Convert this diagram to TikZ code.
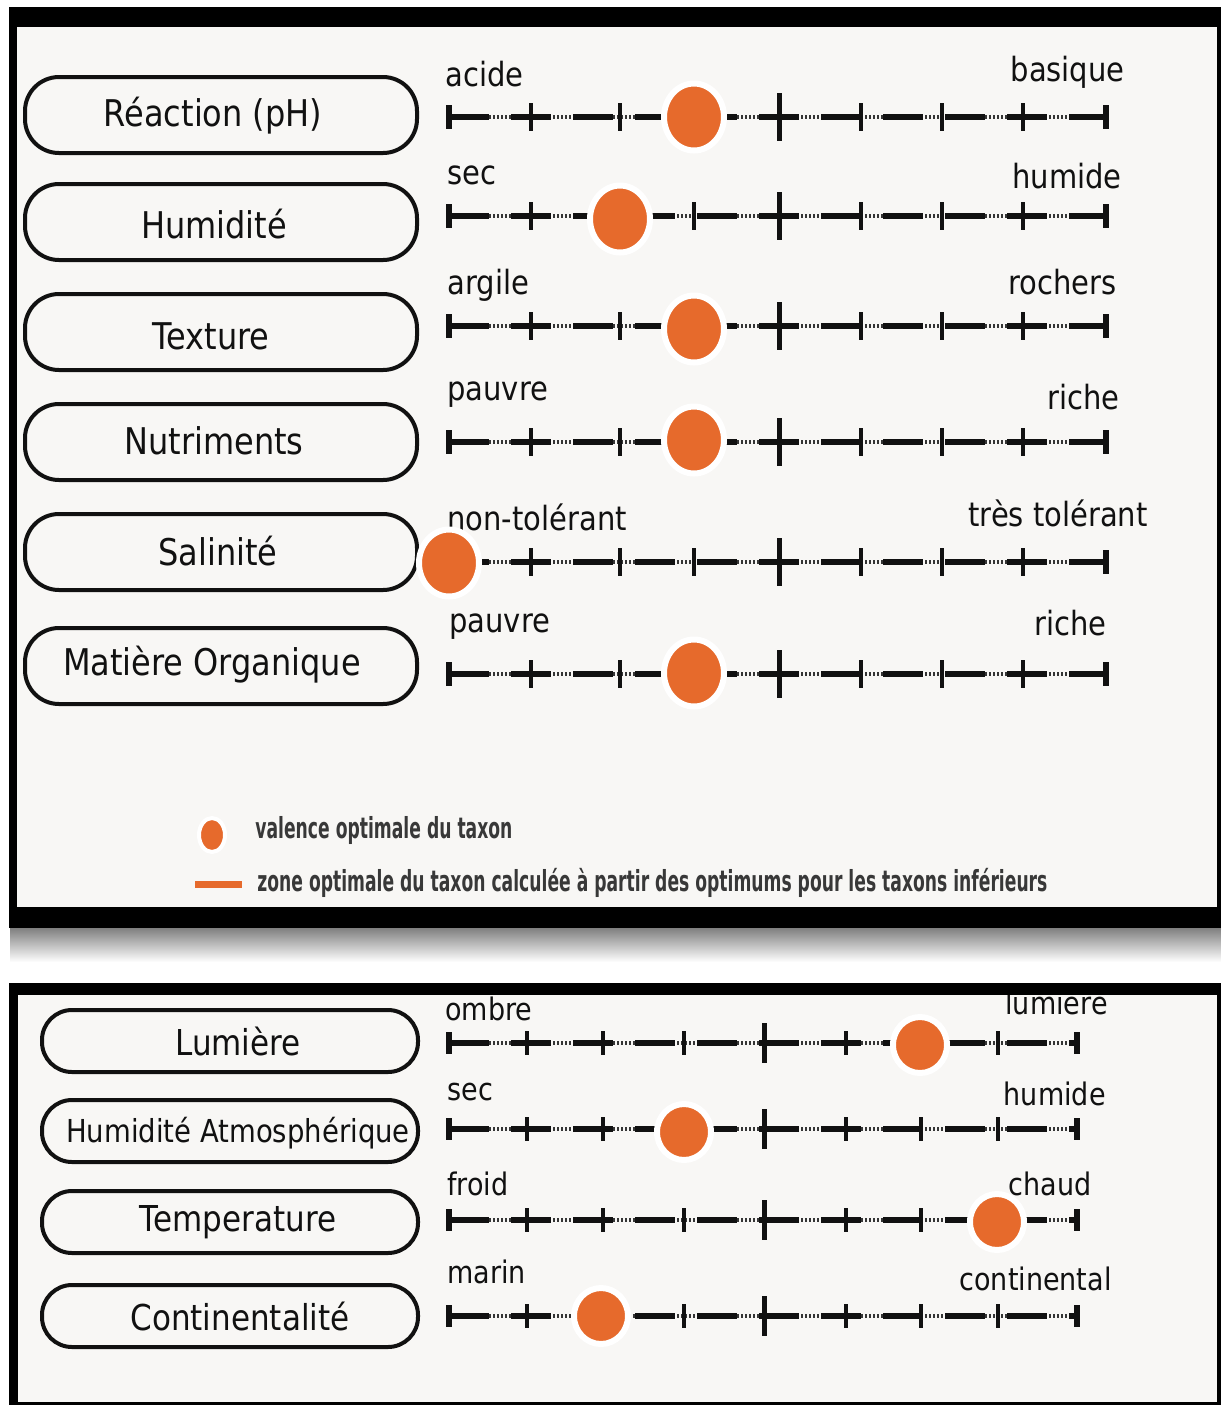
\documentclass[tikz,border=0pt]{standalone}
\usepackage{fontspec}
\setmainfont{DejaVu Sans}
\usetikzlibrary{shapes.geometric}
\definecolor{dotorange}{HTML}{E66A2C}
\definecolor{panelbg}{HTML}{F8F7F5}
\definecolor{ink}{HTML}{111111}
\newcommand\mytickh{14}
\newcommand\mybigh{24}
\newcommand\mycaph{12}
\newcommand\vst[1]{\scalebox{1}[1.15]{#1}}
\newcommand\scalerow[6]{%
  \coordinate (#1a) at (#5,#2);
  \coordinate (#1b) at (#6,#2);
  \draw[dotpart] (#1a) -- (#1b);
  \draw[solidpart] (#1a) -- (#1b);
  \foreach \tx in {#3} {\draw[tickmark] (\tx,{#2-\mytickh}) -- (\tx,{#2+\mytickh});}
  \draw[bigtick] (#4,{#2-\mybigh}) -- (#4,{#2+\mybigh});
  \draw[captick] (#5,{#2-\mycaph}) -- (#5,{#2+\mycaph});
  \draw[captick] (#6,{#2-\mycaph}) -- (#6,{#2+\mycaph});
}
\begin{document}
\begin{tikzpicture}[x=0.5pt,y=-0.5pt,
  pill/.style={draw=ink, line width=2pt, rounded corners=17pt, minimum width=196pt, minimum height=38pt, inner sep=0pt},
  pillb/.style={pill, minimum width=188pt, minimum height=31pt, rounded corners=15pt},
  boxtext/.style={font=\fontsize{16}{19}\selectfont, text=ink, inner sep=0pt},
  boxtextb/.style={font=\fontsize{15.5}{18}\selectfont, text=ink, inner sep=0pt},
  endlbl/.style={font=\fontsize{14.5}{17}\selectfont, text=ink, inner sep=0pt},
  endlblb/.style={font=\fontsize{13.5}{16}\selectfont, text=ink, inner sep=0pt},
  dotpart/.style={draw=ink!85, line width=2.4pt, dash pattern=on 0.9pt off 1.1pt},
  solidpart/.style={draw=ink, line width=2.8pt, dash pattern=on 20pt off 11pt},
  tickmark/.style={draw=ink, line width=2pt},
  captick/.style={draw=ink, line width=3pt},
  bigtick/.style={draw=ink, line width=2.5pt},
  valdot/.style={ellipse, fill=dotorange, draw=white, line width=3pt, inner sep=0pt, minimum width=30pt, minimum height=33.5pt},
  valdotb/.style={valdot, minimum width=27pt, minimum height=28pt},
  legtext/.style={anchor=base west, inner sep=0pt, text=black!78}
]
\useasboundingbox (0,0) rectangle (1221,1405);
\fill[white] (0,0) rectangle (1221,1405);

% ---------- top panel ----------
\fill[black] (9,7) rectangle (1221,928);
\fill[panelbg] (17,27) rectangle (1217,907);
\shade[top color=black!50, bottom color=white] (10,928) rectangle (1221,962);

% label boxes
\node[pill] (p1) at (221,115) {};
\node[boxtext] (t1) at (213,116) {\vst{Réaction (pH)}};
\node[pill] (p2) at (221,222) {};
\node[boxtext] (t2) at (214,224) {\vst{Humidité}};
\node[pill] (p3) at (221,332) {};
\node[boxtext] (t3) at (211,336) {\vst{Texture}};
\node[pill] (p4) at (221,442) {};
\node[boxtext] (t4) at (214,441) {\vst{Nutriments}};
\node[pill] (p5) at (221,552) {};
\node[boxtext] (t5) at (218,551) {\vst{Salinité}};
\node[pill] (p6) at (221,666) {};
\node[boxtext] (t6) at (212,665) {\vst{Matière Organique}};

% scales
\scalerow{r1}{117}{531,620,694,861,942,1023}{779}{449}{1106}
\scalerow{r2}{216}{531,620,694,861,942,1023}{779}{449}{1106}
\scalerow{r3}{326}{531,620,694,861,942,1023}{779}{449}{1106}
\scalerow{r4}{442}{531,620,694,861,942,1023}{779}{449}{1106}
\scalerow{r5}{562}{531,620,694,861,942,1023}{779}{449}{1106}
\scalerow{r6}{674}{531,620,694,861,942,1023}{779}{449}{1106}

% end labels
\node[endlbl, anchor=base west] (a1) at (445,86) {\vst{acide}};
\node[endlbl, anchor=base east] (b1) at (1125,81) {\vst{basique}};
\node[endlbl, anchor=base west] (a2) at (447,184) {\vst{sec}};
\node[endlbl, anchor=base east] (b2) at (1122,188) {\vst{humide}};
\node[endlbl, anchor=base west] (a3) at (447,294) {\vst{argile}};
\node[endlbl, anchor=base east] (b3) at (1117,294) {\vst{rochers}};
\node[endlbl, anchor=base west] (a4) at (447,400) {\vst{pauvre}};
\node[endlbl, anchor=base east] (b4) at (1120,409) {\vst{riche}};
\node[endlbl, anchor=base west] (a5) at (447,530) {\vst{non-tolérant}};
\node[endlbl, anchor=base east] (b5) at (1148,526) {\vst{très tolérant}};
\node[endlbl, anchor=base west] (a6) at (449,632) {\vst{pauvre}};
\node[endlbl, anchor=base east] (b6) at (1107,635) {\vst{riche}};

% optimum dots
\node[valdot] (d1) at (694,117) {};
\node[valdot] (d2) at (620,219) {};
\node[valdot] (d3) at (694,329) {};
\node[valdot] (d4) at (694,440) {};
\node[valdot] (d5) at (449,563) {};
\node[valdot] (d6) at (694,673) {};

% legend
\node[ellipse, fill=dotorange, draw=white, line width=2pt, inner sep=0pt, minimum width=13pt, minimum height=17pt] (ld) at (212,835) {};
\node[fill=dotorange, inner sep=0pt, minimum width=23.5pt, minimum height=3.5pt] (lb) at (218.5,884.5) {};
\node[legtext] (lt1) at (255,838) {\resizebox{128.5pt}{\height}{\fontsize{14.5}{17}\selectfont\bfseries valence optimale du taxon}};
\node[legtext] (lt2) at (257,891) {\resizebox{395pt}{\height}{\fontsize{14.5}{17}\selectfont\bfseries zone optimale du taxon calculée à partir des optimums pour les taxons inférieurs}};

% ---------- bottom panel ----------
\fill[black] (9,983) rectangle (1221,1405);
\fill[panelbg] (18,995) rectangle (1217,1402);

\node[pillb] (q1) at (230,1041) {};
\node[boxtextb] (u1) at (238,1041) {\vst{Lumière}};
\node[pillb] (q2) at (230,1131) {};
\node[boxtextb, font=\fontsize{13.75}{16}\selectfont] (u2) at (238,1133) {\vst{Humidité Atmosphérique}};
\node[pillb] (q3) at (230,1222) {};
\node[boxtextb] (u3) at (238,1222) {\vst{Temperature}};
\node[pillb] (q4) at (230,1316) {};
\node[boxtextb] (u4) at (240,1316) {\vst{Continentalité}};

\renewcommand\mytickh{12}
\renewcommand\mybigh{20}
\renewcommand\mycaph{11}
\scalerow{s1}{1043}{527,603,684,846,921,998}{764}{449}{1077}
\scalerow{s2}{1129}{527,603,684,846,921,998}{764}{449}{1077}
\scalerow{s3}{1220}{527,603,684,846,921,998}{764}{449}{1077}
\scalerow{s4}{1316}{527,603,684,846,921,998}{764}{449}{1077}

\node[endlblb, anchor=base west] (e1) at (445,1020) {\vst{ombre}};
\node[endlblb, anchor=base east] (f1) at (1108,1014) {\vst{lumière}};
\node[endlblb, anchor=base west] (e2) at (447,1100) {\vst{sec}};
\node[endlblb, anchor=base east] (f2) at (1106,1105) {\vst{humide}};
\node[endlblb, anchor=base west] (e3) at (447,1195) {\vst{froid}};
\node[endlblb, anchor=base east] (f3) at (1092,1195) {\vst{chaud}};
\node[endlblb, anchor=base west] (e4) at (447,1283) {\vst{marin}};
\node[endlblb, anchor=base east] (f4) at (1112,1290) {\vst{continental}};

\node[valdotb] (g1) at (920,1045) {};
\node[valdotb] (g2) at (684,1132) {};
\node[valdotb] (g3) at (997,1222) {};
\node[valdotb] (g4) at (601,1316) {};

% top border of lower panel drawn over the clipped label
\fill[black] (9,983) rectangle (1221,995);
\end{tikzpicture}
\end{document}
